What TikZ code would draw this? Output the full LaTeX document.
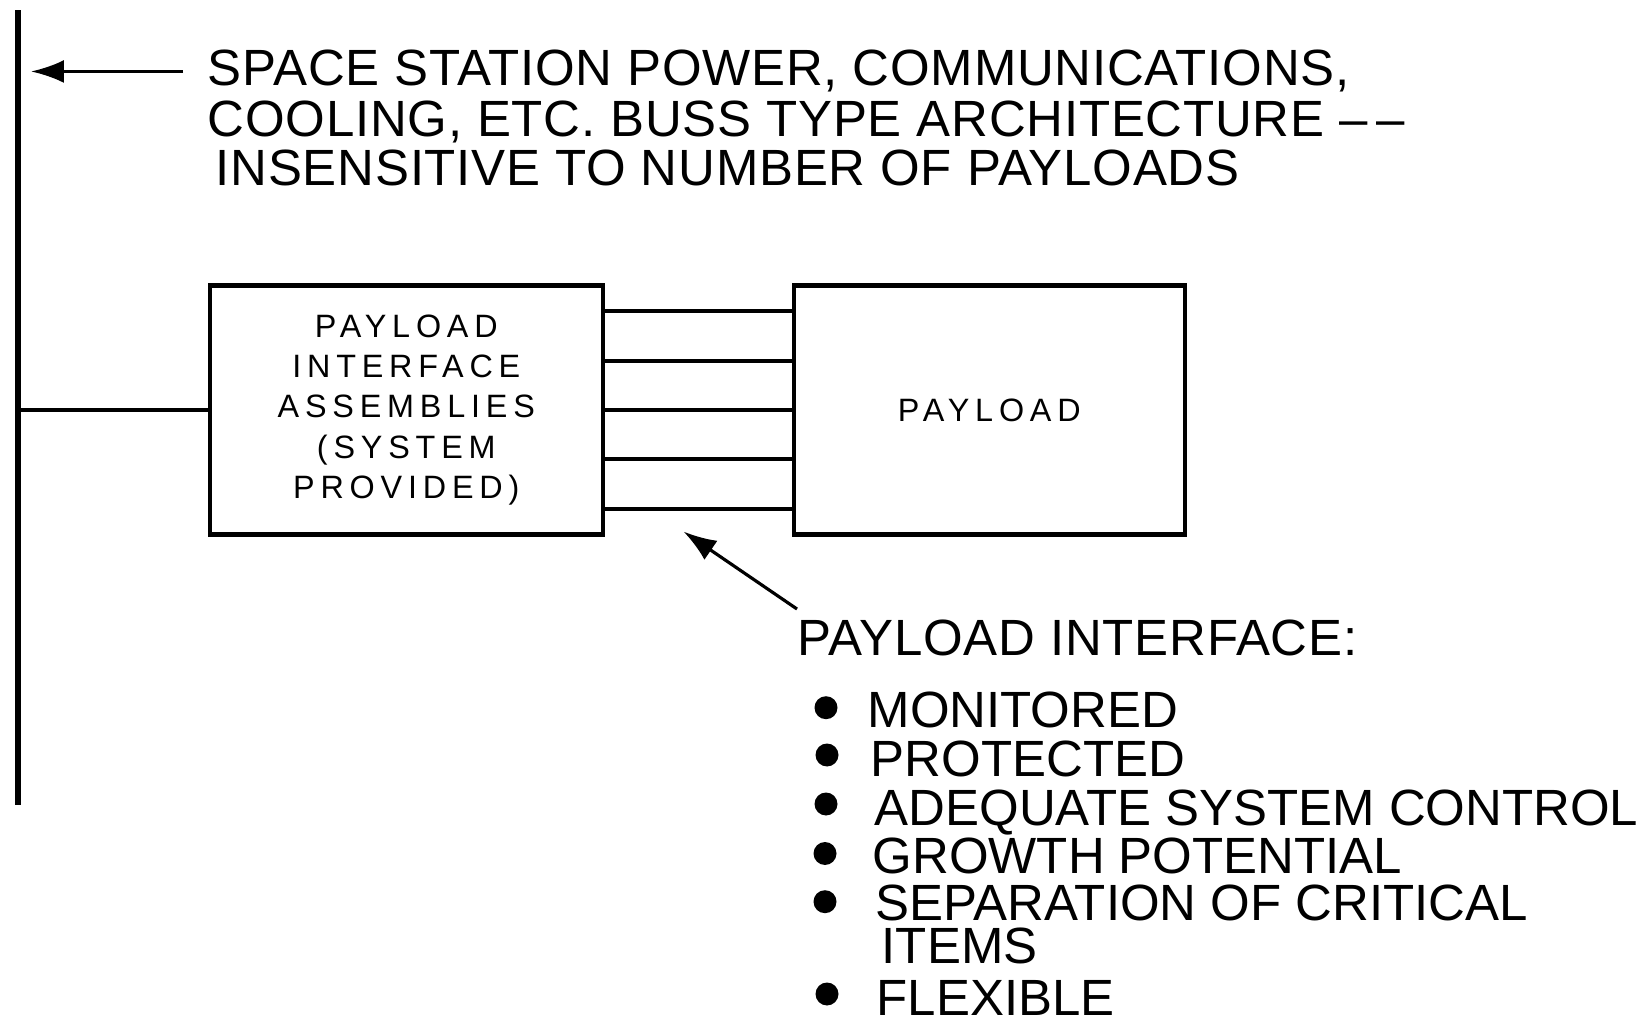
\documentclass[tikz,border=0pt]{standalone}
\usepackage{fontspec}
\setmainfont{Liberation Sans}
\newfontfamily\unitfont[LetterSpace=18]{Liberation Sans}
\newfontfamily\headfont[LetterSpace=1.5]{Liberation Sans}
\usetikzlibrary{arrows.meta, positioning}

\begin{document}
\begin{tikzpicture}[
  caps/.style={font=\fontsize{14.5}{14}\selectfont, inner sep=0pt, anchor=base west},
  heading/.style={caps, font=\headfont\fontsize{14.5}{14}\selectfont},
  unit/.style={draw, line width=1.3pt, minimum height=2.495cm, align=center,
               font=\unitfont\fontsize{9.2}{11.4}\selectfont},
  wire/.style={line width=0.9pt},
  dot/.style={circle, fill, inner sep=0pt, minimum size=2.3mm},
  a/.style={-{Latex[length=3.3mm, width=2.3mm]}, line width=0.9pt}
]
\useasboundingbox (0,0) rectangle (16.44,10.18);

% bus
\coordinate (bustop) at (0.18,10.075);
\coordinate (busbot) at (0.18,2.13);
\draw[line width=1.5pt] (bustop) -- (busbot);

\node[heading] (title1) at (2.07,9.32) {SPACE STATION POWER, COMMUNICATIONS,};
\node[heading] (title2) at (2.07,8.817) {COOLING, ETC. BUSS TYPE ARCHITECTURE \textendash\,\textendash};
\node[heading] (title3) at (2.15,8.324) {INSENSITIVE TO NUMBER OF PAYLOADS};
\draw[a] ([xshift=-2.4mm]title1.west) -- ([xshift=1.3mm]title1.west -| bustop);

% boxes
\node[unit, minimum width=3.93cm] (pia) at (4.063,6.08)
  {PAYLOAD\\INTERFACE\\ASSEMBLIES\\(SYSTEM\\PROVIDED)};
\node[unit, minimum width=3.91cm] (payload) at (9.893,6.08) {PAYLOAD};

\draw[wire] (pia.west) -- (pia.west -| bustop);
\draw[wire] ([yshift=9.9mm]pia.east) -- ([yshift=9.9mm]payload.west);
\draw[wire] ([yshift=4.9mm]pia.east) -- ([yshift=4.9mm]payload.west);
\draw[wire] (pia.east) -- (payload.west);
\draw[wire] ([yshift=-4.9mm]pia.east) -- ([yshift=-4.9mm]payload.west);
\draw[wire] ([yshift=-9.9mm]pia.east) -- ([yshift=-9.9mm]payload.west);

% interface notes
\node[heading] (iflabel) at (7.97,3.627) {PAYLOAD INTERFACE:};
\coordinate (gap) at (6.836,4.864);
\draw[a] ([yshift=1mm]iflabel.north west) -- (gap);

\node[dot] (b1) at (8.26,3.103) {};
\node[caps] (monitored) at (8.67,2.903) {MONITORED};
\node[dot] (b2) at (8.27,2.63) {};
\node[caps] (protected) at (8.70,2.42) {PROTECTED};
\node[dot] (b3) at (8.26,2.14) {};
\node[caps] (control) at (8.74,1.93) {ADEQUATE SYSTEM CONTROL};
\node[dot] (b4) at (8.25,1.645) {};
\node[caps] (growth) at (8.72,1.446) {GROWTH POTENTIAL};
\node[dot] (b5) at (8.25,1.163) {};
\node[caps] (separation) at (8.75,0.974) {SEPARATION OF CRITICAL};
\node[caps] (items) at (8.81,0.545) {ITEMS};
\node[dot] (b6) at (8.27,0.24) {};
\node[caps] (flexible) at (8.76,0.03) {FLEXIBLE};
\end{tikzpicture}
\end{document}
